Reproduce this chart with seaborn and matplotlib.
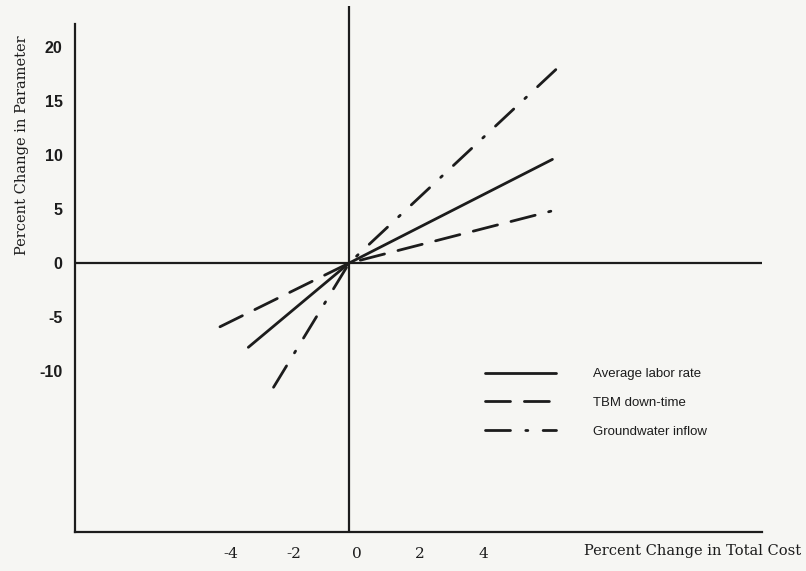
import matplotlib
matplotlib.use('Agg')
import matplotlib.pyplot as plt
import matplotlib.transforms as mtrans
import seaborn as sns
import pandas as pd

# values: low end, origin, high end of each line
series_names = ['Average labor rate', 'TBM down-time', 'Groundwater inflow']
labor_x = [-3.2, 0, 6.45]
labor_y = [-7.8, 0, 9.6]
tbm_x = [-4.1, 0, 6.4]
tbm_y = [-5.9, 0, 4.8]
water_x = [-2.4, 0, 6.7]
water_y = [-11.5, 0, 18.3]

x_ticks = [-4, -2, 0, 2, 4]
x_tick_labels = ['-4', '-2', '0', '2', '4']
y_ticks = [20, 15, 10, 5, 0, -5, -10]
y_tick_labels = ['20', '15', '10', '5', '0', '-5', '-10']

df = pd.DataFrame({
    'cost': labor_x + tbm_x + water_x,
    'param': labor_y + tbm_y + water_y,
    'series': [series_names[0]] * 3 + [series_names[1]] * 3 + [series_names[2]] * 3,
})

sns.set_style('white')
plt.rcParams['lines.scale_dashes'] = False

ink = '#1c1c1c'
paper = '#f6f6f3'

fig = plt.figure(figsize=(8.06, 5.71), dpi=100, facecolor=paper)
ax = fig.add_axes([75 / 806, 39 / 571, 687 / 806, 526 / 571])
ax.set_facecolor(paper)

styles = {
    'Average labor rate': (),
    'TBM down-time': (18, 10),
    'Groundwater inflow': (18, 11, 1.5, 11),
}
for name in series_names:
    sub = df[df['series'] == name]
    sns.lineplot(data=sub, x='cost', y='param', ax=ax, color=ink, lw=2.0,
                 estimator=None, sort=False, label=name)
    line = ax.lines[-1]
    if styles[name]:
        line.set_dashes(styles[name])
    line.set_dash_capstyle('round')
    line.set_solid_capstyle('round')

ax.set_xlim(-8.7, 13.1)
ax.set_ylim(-24.9, 23.8)

# cross through the origin
ax.axhline(0, color=ink, lw=1.6)
ax.axvline(0, color=ink, lw=1.6)

for s in ['top', 'right']:
    ax.spines[s].set_visible(False)
for s in ['left', 'bottom']:
    ax.spines[s].set_color(ink)
    ax.spines[s].set_linewidth(1.6)
ax.spines['left'].set_bounds(-24.9, 22.1)

ax.set_xticks(x_ticks)
ax.set_xticklabels(x_tick_labels, fontfamily='DejaVu Serif', fontsize=11, color=ink)
ax.set_yticks(y_ticks)
ax.set_yticklabels(y_tick_labels, fontfamily='Liberation Sans', fontweight='bold',
                   fontsize=11.5, color=ink)
ax.tick_params(axis='both', length=0)
ax.tick_params(axis='x', pad=11)
ax.tick_params(axis='y', pad=9)

# the typed x labels sit a little right of the grid positions
shift = mtrans.ScaledTranslation(0.08, 0, fig.dpi_scale_trans)
for lab in ax.get_xticklabels():
    lab.set_transform(lab.get_transform() + shift)

ax.set_xlabel('Percent Change in Total Cost', fontfamily='DejaVu Serif', fontsize=10.5, color=ink)
ax.xaxis.set_label_coords(0.8986, -0.037)
ax.xaxis.label.set_va('center')
ax.set_ylabel('Percent Change in Parameter', fontfamily='DejaVu Serif', fontsize=10.5, color=ink)
ax.yaxis.set_label_coords(-0.077, 0.736)
ax.yaxis.label.set_va('center')

leg = ax.legend(loc='upper left', bbox_to_anchor=(485 / 806, 1 - 368 / 571),
                bbox_transform=fig.transFigure, frameon=False, borderpad=0,
                borderaxespad=0, handlelength=5.4, handletextpad=2.8,
                labelspacing=1.25, prop={'family': 'Liberation Sans', 'size': 9.5})
for t in leg.get_texts():
    t.set_color(ink)

plt.savefig('out.png', dpi=100, facecolor=paper)
plt.close()
